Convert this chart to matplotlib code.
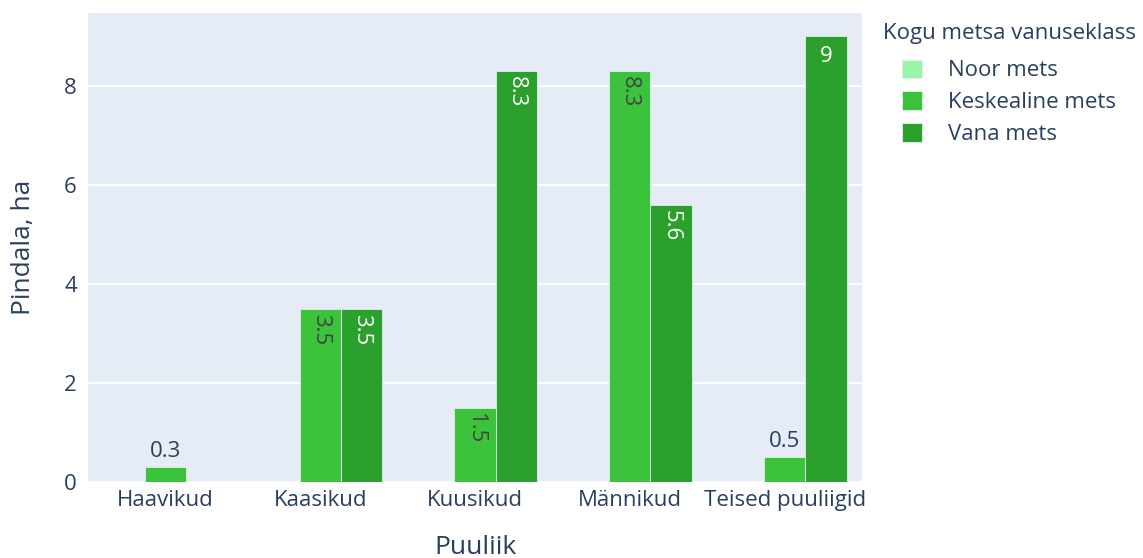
import numpy as np
import matplotlib.pyplot as plt

# data
categories = ['Haavikud', 'Kaasikud', 'Kuusikud', 'Männikud', 'Teised puuliigid']
noor = [np.nan, np.nan, np.nan, np.nan, np.nan]
keskealine = [0.3, 3.5, 1.5, 8.3, 0.5]
vana = [np.nan, 3.5, 8.3, 5.6, 9]
series_names = ['Noor mets', 'Keskealine mets', 'Vana mets']
colors = ['#98f5a8', '#3bc43b', '#2ca02c']
text_colors = ['#444444', '#444444', '#ffffff']

plt.rcParams['font.family'] = ['Open Sans', 'DejaVu Sans']
font_col = '#2a3f5f'

fig = plt.figure(figsize=(11.43, 5.58), dpi=100)
ax = fig.add_axes([88 / 1143, 1 - 482 / 558, 774 / 1143, 469 / 558])
ax.set_facecolor('#E5ECF6')

x = np.arange(len(categories))
w = 0.8 / 3
all_series = [noor, keskealine, vana]

for k, (vals, name, col, tcol) in enumerate(zip(all_series, series_names, colors, text_colors)):
    pos = x + (k - 1) * w
    vals = np.array(vals, dtype=float)
    ax.bar(pos, np.nan_to_num(vals), width=w, color=col, edgecolor='#E5ECF6',
           linewidth=0.6, label=name, zorder=2)
    for p, v in zip(pos, vals):
        if np.isnan(v):
            continue
        lab = f'{v:g}'
        if v < 1:
            ax.annotate(lab, (p, v), xytext=(0, 4), textcoords='offset points',
                        ha='center', va='bottom', fontsize=16, color=font_col)
        elif len(lab) == 1:
            ax.annotate(lab, (p, v), xytext=(0, -7), textcoords='offset points',
                        ha='center', va='top', fontsize=16, color=tcol)
        else:
            ax.annotate(lab, (p, v), xytext=(0, -4), textcoords='offset points',
                        ha='center', va='top', fontsize=16, color=tcol, rotation=270)

ax.set_xlim(-0.5, len(categories) - 0.5)
ax.set_ylim(0, 9.47)
ax.set_yticks([0, 2, 4, 6, 8])
ax.set_xticks(x)
ax.set_xticklabels(categories)
ax.grid(axis='y', color='white', linewidth=1.3, zorder=0)
ax.set_axisbelow(True)
for s in ax.spines.values():
    s.set_visible(False)
ax.tick_params(axis='both', length=0, labelsize=16, labelcolor=font_col)
ax.tick_params(axis='y', pad=8)
ax.tick_params(axis='x', pad=6)

ax.set_xlabel('Puuliik', fontsize=19, color=font_col, labelpad=17)
ax.set_ylabel('Pindala, ha', fontsize=19, color=font_col, labelpad=20)

fig.text(883 / 1143, 1 - 33 / 558, 'Kogu metsa vanuseklass', fontsize=16,
         color=font_col, va='center', ha='left')
leg = fig.legend(loc='upper left', bbox_to_anchor=(886 / 1143, 1 - 44 / 558),
                 frameon=False, fontsize=16, handlelength=0.9, handleheight=0.9,
                 handletextpad=1.2, labelspacing=0.45, borderpad=0.2)
for t in leg.get_texts():
    t.set_color(font_col)

plt.savefig('out.png', dpi=100)
